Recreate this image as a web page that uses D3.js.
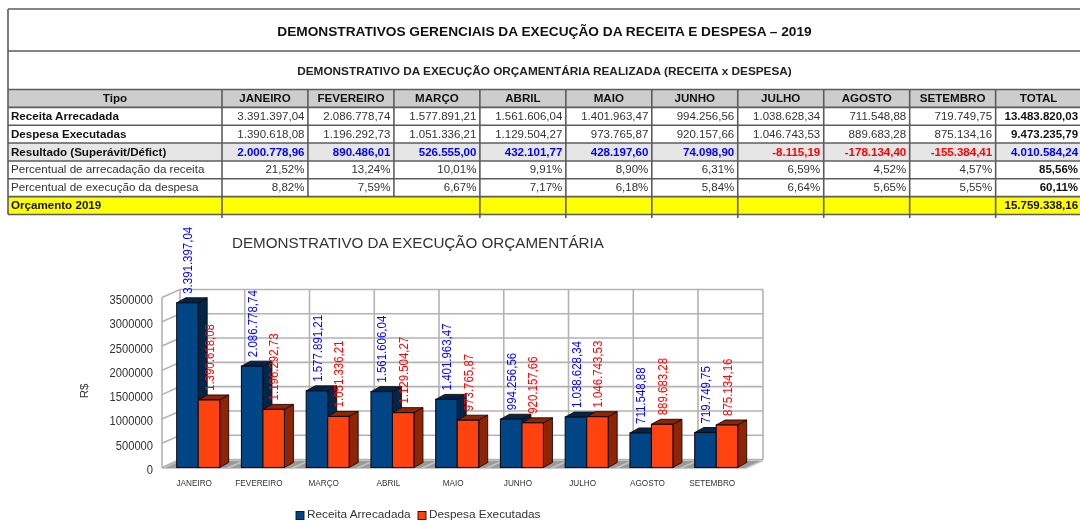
<!DOCTYPE html>
<html>
<head>
<meta charset="utf-8">
<title>Demonstrativos gerenciais 2019</title>
<script src="https://cdn.jsdelivr.net/npm/d3@7"></script>
<style>
  html, body { margin: 0; padding: 0; background: #fff; overflow: hidden; }
  svg { display: block; font-family: "Liberation Sans", Arial, sans-serif; filter: blur(0.35px); }
</style>
</head>
<body>
<svg id="chart" width="1080" height="521"></svg>
<script>
// values
var months = ["JANEIRO", "FEVEREIRO", "MARÇO", "ABRIL", "MAIO", "JUNHO", "JULHO", "AGOSTO", "SETEMBRO"];
var receita = [3391397.04, 2086778.74, 1577891.21, 1561606.04, 1401963.47, 994256.56, 1038628.34, 711548.88, 719749.75];
var despesa = [1390618.08, 1196292.73, 1051336.21, 1129504.27, 973765.87, 920157.66, 1046743.53, 889683.28, 875134.16];
var resultado = [2000778.96, 890486.01, 526555.00, 432101.77, 428197.60, 74098.90, -8115.19, -178134.40, -155384.41];
var percReceita = [21.52, 13.24, 10.01, 9.91, 8.90, 6.31, 6.59, 4.52, 4.57];
var percDespesa = [8.82, 7.59, 6.67, 7.17, 6.18, 5.84, 6.64, 5.65, 5.55];
var totals = [13483820.03, 9473235.79, 4010584.24, 85.56, 60.11];
var orcamento = 15759338.16;
var yTicks = [0, 500000, 1000000, 1500000, 2000000, 2500000, 3000000, 3500000];

var rowNames = ["Receita Arrecadada", "Despesa Executadas", "Resultado (Superávit/Défict)",
  "Percentual de arrecadação da receita", "Percentual de execução da despesa", "Orçamento 2019"];

var title = "DEMONSTRATIVOS GERENCIAIS DA EXECUÇÃO DA RECEITA E DESPESA – 2019";
var subtitle = "DEMONSTRATIVO DA EXECUÇÃO ORÇAMENTÁRIA REALIZADA (RECEITA x DESPESA)";
var chartTitle = "DEMONSTRATIVO DA EXECUÇÃO ORÇAMENTÁRIA";

// colours
var blue = "#004586", blueDark = "#00264a";
var orange = "#ff420e", orangeDark = "#8f2507";
var gridColor = "#b3b3b3", tableLine = "#5c5c5c";

var ptBR = d3.formatLocale({decimal: ",", thousands: ".", grouping: [3], currency: ["", ""], minus: "-"});
var money = ptBR.format(",.2f");
var pct = function(d) { return ptBR.format(".2f")(d) + "%"; };

var svg = d3.select("#chart");

/* ---------- table ---------- */
var tableLeft = 8, tableRight = 1080;
var columns = months.concat(["TOTAL"]);
var rowIds = ["head"].concat(rowNames);

var xCol = d3.scaleBand().domain(columns).range([222, 1081.6]);
var yRow = d3.scaleBand().domain(rowIds).range([89.5, 214.5]);

var table = svg.append("g");

// row backgrounds
table.append("rect").attr("x", tableLeft).attr("y", yRow("head"))
  .attr("width", tableRight - tableLeft).attr("height", yRow.bandwidth()).attr("fill", "#cdcdcd");
table.append("rect").attr("x", tableLeft).attr("y", yRow(rowNames[2]))
  .attr("width", tableRight - tableLeft).attr("height", yRow.bandwidth()).attr("fill", "#e6e6e6");
table.append("rect").attr("x", tableLeft).attr("y", yRow(rowNames[5]))
  .attr("width", tableRight - tableLeft).attr("height", yRow.bandwidth()).attr("fill", "#ffff00");

// horizontal rules
var hLines = [9, 51].concat(rowIds.map(function(r) { return yRow(r); })).concat([214.5]);
table.selectAll("line.h").data(hLines).enter().append("line")
  .attr("class", "h")
  .attr("x1", tableLeft).attr("x2", tableRight)
  .attr("y1", function(d) { return d; }).attr("y2", function(d) { return d; })
  .attr("stroke", tableLine).attr("stroke-width", 1.6);

// outer left side
table.append("line").attr("x1", tableLeft).attr("x2", tableLeft).attr("y1", 9).attr("y2", 214.5)
  .attr("stroke", tableLine).attr("stroke-width", 1.6);

// column rules, the yellow row merges the first three months
table.selectAll("line.v").data(columns).enter().append("line")
  .attr("class", "v")
  .attr("x1", function(d) { return xCol(d); }).attr("x2", function(d) { return xCol(d); })
  .attr("y1", yRow("head"))
  .attr("y2", function(d) {
    return (d == "FEVEREIRO" || d == "MARÇO") ? yRow(rowNames[5]) : 218;
  })
  .attr("stroke", tableLine).attr("stroke-width", 1.6);

svg.append("text").attr("x", 544.5).attr("y", 35.5).attr("text-anchor", "middle")
  .attr("font-size", 13.7).attr("font-weight", "bold").attr("fill", "#111").text(title);
svg.append("text").attr("x", 544.5).attr("y", 75).attr("text-anchor", "middle")
  .attr("font-size", 11.8).attr("font-weight", "bold").attr("fill", "#222").text(subtitle);

function rowText(r) { return yRow(r) + yRow.bandwidth() / 2 + 3.6; }

// header
table.append("text").attr("x", 115).attr("y", rowText("head")).attr("text-anchor", "middle")
  .attr("font-size", 11.6).attr("font-weight", "bold").attr("fill", "#111").text("Tipo");
table.selectAll("text.colhead").data(columns).enter().append("text")
  .attr("class", "colhead")
  .attr("x", function(d) { return xCol(d) + xCol.bandwidth() / 2; })
  .attr("y", rowText("head")).attr("text-anchor", "middle")
  .attr("font-size", 11.6).attr("font-weight", "bold").attr("fill", "#111")
  .text(function(d) { return d; });

// row names
table.selectAll("text.rowname").data(rowNames).enter().append("text")
  .attr("class", "rowname")
  .attr("x", 11)
  .attr("y", function(d) { return rowText(d); })
  .attr("font-size", 11.6)
  .attr("font-weight", function(d, i) { return (i == 3 || i == 4) ? "normal" : "bold"; })
  .attr("fill", function(d, i) { return (i == 3 || i == 4) ? "#333" : "#111"; })
  .text(function(d) { return d; });

// cell rows: values, formatter, total
var rows = [
  {name: rowNames[0], values: receita, fmt: money, total: totals[0]},
  {name: rowNames[1], values: despesa, fmt: money, total: totals[1]},
  {name: rowNames[2], values: resultado, fmt: money, total: totals[2], strong: true},
  {name: rowNames[3], values: percReceita, fmt: pct, total: totals[3]},
  {name: rowNames[4], values: percDespesa, fmt: pct, total: totals[4]}
];

rows.forEach(function(row) {
  table.selectAll(null).data(row.values).enter().append("text")
    .attr("x", function(d, i) { return xCol(months[i]) + xCol.bandwidth() - 3.5; })
    .attr("y", rowText(row.name))
    .attr("text-anchor", "end")
    .attr("font-size", 11.5)
    .attr("font-weight", row.strong ? "bold" : "normal")
    .attr("fill", function(d) {
      if (row.strong) return d < 0 ? "#ff0000" : "#0000ff";
      return "#333";
    })
    .text(function(d) { return row.fmt(d); });

  table.append("text")
    .attr("x", xCol("TOTAL") + xCol.bandwidth() - 3.5)
    .attr("y", rowText(row.name))
    .attr("text-anchor", "end")
    .attr("font-size", 11.5).attr("font-weight", "bold")
    .attr("fill", row.strong ? "#0000ff" : "#111")
    .text(row.fmt(row.total));
});

table.append("text")
  .attr("x", xCol("TOTAL") + xCol.bandwidth() - 3.5)
  .attr("y", rowText(rowNames[5]))
  .attr("text-anchor", "end")
  .attr("font-size", 11.5).attr("font-weight", "bold").attr("fill", "#111")
  .text(money(orcamento));

/* ---------- 3D bar chart ---------- */
var plot = svg.append("g");

var wallDx = 18, wallDy = -8;   // depth of the chart box
var barDx = 9, barDy = -5;      // depth of one bar
var floorLeft = 162, floorRight = 745;

var y = d3.scaleLinear().domain([0, 3500000]).range([467.5, 297.5]);

var x = d3.scaleBand().domain(months).range([162, 752.4]).paddingInner(0.336).paddingOuter(0.227);
var xSeries = d3.scaleBand().domain(["receita", "despesa"]).range([0, x.bandwidth()]);

// back wall verticals share the month step
var wallX = months.map(function(m) { return x(m) - x.step() * 0.227 + wallDx; });
wallX.push(floorRight + wallDx);

// floor
plot.append("polygon")
  .attr("points", [[floorLeft, y(0) + 1], [floorRight, y(0) + 1], [floorRight + wallDx, y(0) + 1 + wallDy], [floorLeft + wallDx, y(0) + 1 + wallDy]].join(" "))
  .attr("fill", "#9a9a9a");
plot.selectAll("line.floor").data(wallX).enter().append("line")
  .attr("class", "floor")
  .attr("x1", function(d) { return d; }).attr("y1", y(0) + wallDy + 1)
  .attr("x2", function(d) { return d - wallDx; }).attr("y2", y(0) + 1)
  .attr("stroke", "#c4c4c4").attr("stroke-width", 1.4);

// horizontal grid, side wall + back wall
plot.selectAll("polyline.grid").data(yTicks).enter().append("polyline")
  .attr("class", "grid")
  .attr("points", function(d) {
    return [[floorLeft, y(d)], [floorLeft + wallDx, y(d) + wallDy], [floorRight + wallDx, y(d) + wallDy]].join(" ");
  })
  .attr("fill", "none").attr("stroke", gridColor).attr("stroke-width", 1.6);

plot.selectAll("line.wall").data(wallX).enter().append("line")
  .attr("class", "wall")
  .attr("x1", function(d) { return d; }).attr("x2", function(d) { return d; })
  .attr("y1", y(3500000) + wallDy).attr("y2", y(0) + wallDy)
  .attr("stroke", gridColor).attr("stroke-width", 1.6);

plot.append("line")
  .attr("x1", floorLeft).attr("x2", floorLeft)
  .attr("y1", y(3500000)).attr("y2", y(0))
  .attr("stroke", gridColor).attr("stroke-width", 1.6);

// one 3D bar: side, top, front
function drawBar(g, x0, w, value, front, dark) {
  var top = y(value), base = y(0);
  g.append("polygon")
    .attr("points", [[x0 + w, top], [x0 + w + barDx, top + barDy], [x0 + w + barDx, base + barDy], [x0 + w, base]].join(" "))
    .attr("fill", dark).attr("stroke", "#1a0a05").attr("stroke-width", 0.9);
  g.append("polygon")
    .attr("points", [[x0, top], [x0 + barDx, top + barDy], [x0 + w + barDx, top + barDy], [x0 + w, top]].join(" "))
    .attr("fill", dark).attr("stroke", "#1a0a05").attr("stroke-width", 0.9);
  g.append("rect")
    .attr("x", x0).attr("y", top).attr("width", w).attr("height", base - top)
    .attr("fill", front).attr("stroke", "#0c0c14").attr("stroke-width", 1.1);
}

months.forEach(function(m, i) {
  var g = plot.append("g");
  drawBar(g, x(m) + xSeries("receita"), xSeries.bandwidth(), receita[i], blue, blueDark);
  drawBar(g, x(m) + xSeries("despesa"), xSeries.bandwidth(), despesa[i], orange, orangeDark);
});

// value labels go on top of every bar, glyphs are taller than plain Arial here
function valueLabels(values, key, color) {
  plot.selectAll(null).data(values).enter().append("text")
    .attr("transform", function(d, i) {
      var cx = x(months[i]) + xSeries(key) + xSeries.bandwidth() / 2 + 4.7;
      return "translate(" + cx + "," + (y(d) - 9) + ") rotate(-90) scale(0.85,1)";
    })
    .attr("font-size", 13.5)
    .attr("fill", color)
    .text(function(d) { return money(d); });
}
valueLabels(receita, "receita", "#0000ff");
valueLabels(despesa, "despesa", "#ff0000");

// y axis
var yAxis = d3.axisLeft(y).tickValues(yTicks).tickSize(0).tickPadding(0).tickFormat(d3.format("d"));
var yAxisG = plot.append("g").attr("transform", "translate(153,2)").call(yAxis);
yAxisG.select(".domain").remove();
yAxisG.selectAll("text").attr("font-size", 12.4).attr("font-family", "inherit").attr("fill", "#333")
  .attr("transform", "scale(0.9,1)");

// month labels
plot.selectAll("text.month").data(months).enter().append("text")
  .attr("class", "month")
  .attr("x", function(d) { return x(d) + x.bandwidth() / 2 - 4; })
  .attr("y", 486)
  .attr("text-anchor", "middle")
  .attr("font-size", 8.2)
  .attr("fill", "#333")
  .text(function(d) { return d; });

plot.append("text").attr("transform", "translate(88,391) rotate(-90)")
  .attr("text-anchor", "middle").attr("font-size", 11.5).attr("fill", "#333").text("R$");

plot.append("text").attr("x", 232).attr("y", 248)
  .attr("font-size", 15.2).attr("fill", "#333").text(chartTitle);

// legend
var legendItems = [
  {label: "Receita Arrecadada", color: blue, sx: 296, tx: 307},
  {label: "Despesa Executadas", color: orange, sx: 418, tx: 429}
];
var legend = plot.selectAll("g.legend").data(legendItems).enter().append("g").attr("class", "legend");
legend.append("rect")
  .attr("x", function(d) { return d.sx; }).attr("y", 511.5).attr("width", 8).attr("height", 8)
  .attr("fill", function(d) { return d.color; }).attr("stroke", "#111").attr("stroke-width", 0.9);
legend.append("text")
  .attr("x", function(d) { return d.tx; }).attr("y", 518.4)
  .attr("font-size", 11.8).attr("fill", "#333")
  .text(function(d) { return d.label; });
</script>
</body>
</html>
